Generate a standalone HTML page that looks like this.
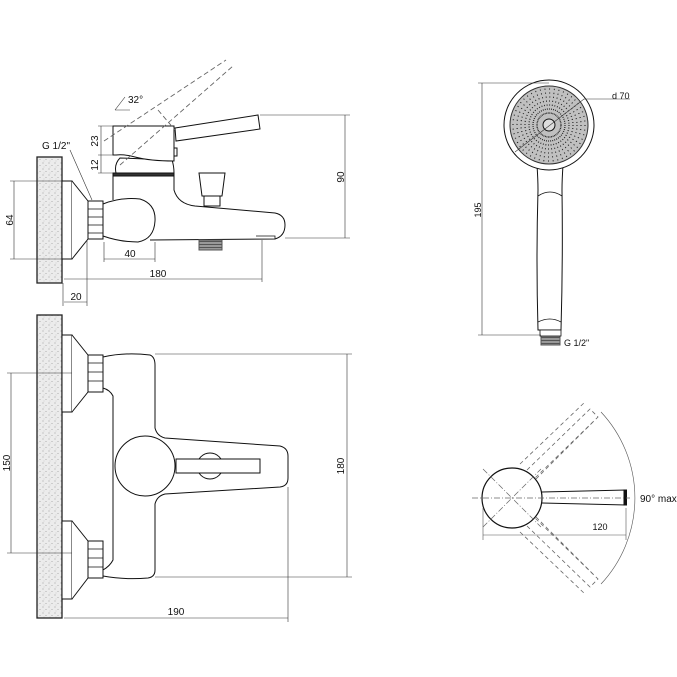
<!DOCTYPE html>
<html><head><meta charset="utf-8"><style>
html,body{margin:0;padding:0;background:#fff}
svg{display:block}
text{font-family:"Liberation Sans",sans-serif;font-size:10px;fill:#111}
</style></head><body>
<svg width="677" height="677" viewBox="0 0 677 677" xmlns="http://www.w3.org/2000/svg">
<defs>
<pattern id="st" width="6" height="6" patternUnits="userSpaceOnUse">
<rect width="6" height="6" fill="#ececec"/>
<circle cx="1" cy="1" r="0.5" fill="#888"/><circle cx="4" cy="3.5" r="0.5" fill="#999"/><circle cx="2" cy="5" r="0.4" fill="#aaa"/>
</pattern>
<pattern id="hat" width="3" height="3" patternUnits="userSpaceOnUse">
<rect width="3" height="3" fill="#999"/><line x1="0" y1="1.5" x2="3" y2="1.5" stroke="#444" stroke-width="0.8"/>
</pattern>
</defs>
<g fill="none" stroke="#111" stroke-width="1">
<!-- ========== TOP SIDE VIEW ========== -->
<rect x="37" y="157" width="25" height="126" fill="url(#st)" stroke="#222" stroke-width="1.3"/>
<rect x="62" y="181" width="10" height="78" fill="#fff"/>
<path d="M72 181 L88 201 L88 239 L72 259" fill="#fff"/>
<rect x="88" y="201" width="15" height="38" fill="#fff"/>
<path d="M88 209 H103 M88 217 H103 M88 225 H103 M88 233 H103" stroke-width="0.8"/>
<!-- body -->
<path d="M113 200 V176 H174 V190 Q178 204 195 206 L275 213 Q285 215 285 225 Q285 236 275 239 L150 240" fill="#fff"/>
<path d="M116 173 Q114 164 120 158 L172 160 Q174 166 174 173 Z" fill="#fff"/>
<rect x="113" y="173" width="61" height="3" fill="#333"/>
<path d="M103 204 Q120 197 140 199 Q156 204 155 221 Q154 239 138 242 Q120 242 103 236 Z" fill="#fff"/>
<!-- cartridge -->
<path d="M113 126 H174 V161 Q150 161 135 157 Q124 154 116 155 L113 155 Z" fill="#fff"/>
<rect x="174" y="148" width="3" height="8" fill="#fff"/>
<path d="M175 128 L258 115 L260 129 L176 141 Z" fill="#fff"/>
<!-- dashed lever -->
<path d="M104 141 L226 60 M120 165 L233 66 M158 110 L175 130" stroke="#666" stroke-dasharray="5,3" stroke-width="0.9"/>
<!-- diverter knob -->
<path d="M199 173 H225 L222 196 H202 Z" fill="#fff"/>
<rect x="204" y="196" width="16" height="10" fill="#fff"/>
<rect x="199" y="240" width="23" height="10" fill="url(#hat)" stroke="#555"/>
<path d="M256 236 H275 V239" stroke-width="0.8"/>
<!-- dims top -->
<g stroke="#333" stroke-width="0.6">
<path d="M260 115 H350 M285 238 H350 M345 115 V238"/>
<path d="M113 126 H98 M113 155 H98 M113 173 H98 M101 126 V173"/>
<path d="M62 181 H10 M62 259 H10 M14 181 V259"/>
<path d="M104 242 V262 M155 242 V262 M104 259 H155"/>
<path d="M262 240 V282 M64 279 H262"/>
<path d="M63 283 V306 M87 240 V306 M64 302 H87"/>
<path d="M70 150 L92 200"/>
<path d="M115 110 L125 97 M115 110 H130"/>
</g>
<!-- ========== FRONT VIEW ========== -->
<rect x="37" y="315" width="25" height="303" fill="url(#st)" stroke="#222" stroke-width="1.3"/>
<rect x="62" y="335" width="10" height="77" fill="#fff"/>
<path d="M72 335 L88 355 L88 392 L72 412" fill="#fff"/>
<rect x="88" y="355" width="15" height="37" fill="#fff"/>
<path d="M88 363 H103 M88 372 H103 M88 381 H103" stroke-width="0.8"/>
<rect x="62" y="521" width="10" height="78" fill="#fff"/>
<path d="M72 521 L88 541 L88 578 L72 599" fill="#fff"/>
<rect x="88" y="541" width="15" height="37" fill="#fff"/>
<path d="M88 549 H103 M88 558 H103 M88 567 H103" stroke-width="0.8"/>
<path d="M103 357 Q125 352 150 355 Q155 357 155 365 V428 Q157 436 165 438 L280 446 Q288 448 288 456 V478 Q288 486 280 487 L165 494 Q157 496 155 504 V570 Q155 577 148 578 Q125 580 103 576 L103 570 Q110 566 113 560 V396 Q110 390 103 388 Z" fill="#fff"/>
<circle cx="145" cy="466" r="30" fill="#fff"/>
<circle cx="210" cy="466" r="13" fill="#fff"/>
<rect x="176" y="459" width="84" height="14" fill="#fff"/>
<g stroke="#333" stroke-width="0.6">
<path d="M155 354 H352 M155 577 H352 M347 354 V577"/>
<path d="M7 373 H72 M7 553 H72 M11 373 V553"/>
<path d="M288 487 V622 M64 618 H288"/>
</g>
<!-- ========== SHOWER ========== -->
<path d="M537 165 Q538 180 538 190 Q536 260 538 330 H561 Q563 260 562 190 Q562 180 563 165" fill="#fff"/>
<path d="M538 196 Q550 188 562 196 M538 322 Q550 316 561 322" stroke-width="0.8"/>
<circle cx="549" cy="125" r="45" fill="#fff"/>
<circle cx="549" cy="125" r="39" fill="#c0c0c0" stroke="#333"/>
<g stroke="#222" stroke-width="1.3">
<circle cx="549" cy="125" r="12" stroke-dasharray="0.9,0.67"/>
<circle cx="549" cy="125" r="16" stroke-dasharray="0.9,1.19"/>
<circle cx="549" cy="125" r="20" stroke-dasharray="0.9,1.72"/>
<circle cx="549" cy="125" r="24" stroke-dasharray="0.9,2.24"/>
<circle cx="549" cy="125" r="28" stroke-dasharray="0.9,2.77"/>
<circle cx="549" cy="125" r="32" stroke-dasharray="0.9,3.29"/>
<circle cx="549" cy="125" r="36" stroke-dasharray="0.9,3.81"/>
</g>
<circle cx="549" cy="125" r="6" fill="#ddd"/>
<rect x="541" y="336" width="19" height="9" fill="url(#hat)" stroke="#555"/>
<rect x="540" y="330" width="21" height="6" fill="#fff" stroke-width="0.8"/>
<g stroke="#333" stroke-width="0.6">
<path d="M478 83 H549 M478 335 H541 M482 83 V335"/>
<path d="M515 152 L584 99 L630 99"/>
</g>
<!-- ========== ROTATION VIEW ========== -->
<path d="M542 492 L626 490 L626 505 L542 503" fill="#fff"/>
<rect x="624" y="490" width="2.5" height="15" fill="#111"/>
<circle cx="512" cy="498" r="30" fill="#fff" stroke-width="1.2"/>
<g stroke="#666" stroke-width="0.7" stroke-dasharray="6,2,1,2">
<path d="M472 498 H630 M483 469 L541 527 M483 527 L541 469"/>
</g>
<g stroke="#666" stroke-width="0.8" stroke-dasharray="4,3">
<path d="M527 470 L590 409 L598 417 L535 478 M536 479 L595 420 M520 464 L585 402"/>
<path d="M527 526 L590 587 L598 579 L535 518 M536 517 L595 576 M520 532 L585 594"/>
</g>
<g stroke="#555" stroke-width="0.6">
<path d="M601 412 A126 126 0 0 1 601 584"/>
<path d="M483 508 V540 M626 508 V540 M483 535 H626"/>
</g>
</g>
<!-- text -->
<text x="128" y="103">32°</text>
<text x="42" y="149">G 1/2"</text>
<text transform="translate(344,177) rotate(-90)" text-anchor="middle">90</text>
<text transform="translate(98,141) rotate(-90)" text-anchor="middle">23</text>
<text transform="translate(98,165) rotate(-90)" text-anchor="middle">12</text>
<text transform="translate(13,220) rotate(-90)" text-anchor="middle">64</text>
<text x="130" y="257" text-anchor="middle">40</text>
<text x="158" y="277" text-anchor="middle">180</text>
<text x="76" y="300" text-anchor="middle">20</text>
<text transform="translate(344,466) rotate(-90)" text-anchor="middle">180</text>
<text transform="translate(10,463) rotate(-90)" text-anchor="middle">150</text>
<text x="176" y="615" text-anchor="middle">190</text>
<text transform="translate(481,210) rotate(-90)" text-anchor="middle" style="font-size:9px">195</text>
<text x="612" y="99" style="font-size:9px">d 70</text>
<text x="564" y="346" style="font-size:9px">G 1/2"</text>
<text x="640" y="502">90° max</text>
<text x="600" y="530" text-anchor="middle" style="font-size:9px">120</text>
</svg>
</body></html>
